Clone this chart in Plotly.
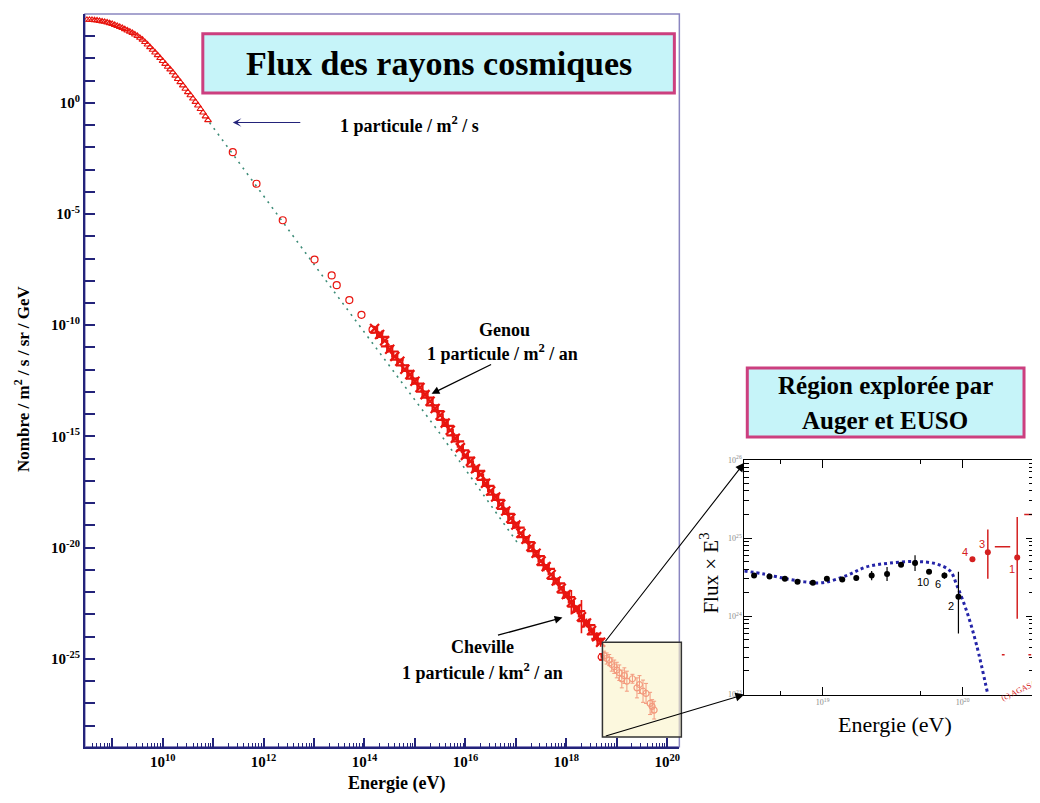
import numpy as np
import plotly.graph_objects as go

W, H = 1040, 803
OFF = 8  # page body margin of the browser
def px(x): return (x - OFF) / W
def py(y): return min(1.0, 1 - (y - OFF) / H)

# ---------------- main spectrum (log10 E [eV], log10 flux) ----------------
low_logE = [8.50, 8.55, 8.60, 8.65, 8.70, 8.75, 8.80, 8.85, 8.90, 8.95, 9.00, 9.05, 9.10, 9.15,
            9.20, 9.25, 9.30, 9.35, 9.40, 9.45, 9.50, 9.55, 9.60, 9.65, 9.70, 9.75, 9.80, 9.85,
            9.90, 9.95, 10.00, 10.05, 10.10, 10.15, 10.20, 10.25, 10.30, 10.35, 10.40, 10.45,
            10.50, 10.55, 10.60, 10.65, 10.70, 10.75, 10.80, 10.85, 10.90]
low_logF = [3.73, 3.73, 3.72, 3.71, 3.70, 3.68, 3.66, 3.64, 3.61, 3.58, 3.54, 3.50, 3.45, 3.41,
            3.36, 3.31, 3.25, 3.20, 3.14, 3.07, 3.00, 2.92, 2.84, 2.73, 2.62, 2.50, 2.38, 2.26,
            2.14, 2.01, 1.88, 1.75, 1.62, 1.50, 1.37, 1.22, 1.07, 0.93, 0.78, 0.63,
            0.48, 0.34, 0.19, 0.04, -0.12, -0.28, -0.44, -0.61, -0.78]

mid_logE = [11.39, 11.86, 12.38, 13.01, 13.35, 13.45, 13.70, 13.94, 14.16]
mid_logF = [-2.22, -3.64, -5.28, -7.05, -7.76, -8.20, -8.87, -9.53, -10.20]

knee_a_logE = [14.20, 14.30, 14.40, 14.50, 14.60, 14.70, 14.80, 14.90, 15.00, 15.10, 15.20, 15.30,
               15.40, 15.50, 15.60, 15.70, 15.80, 15.90, 16.00, 16.10, 16.20, 16.30, 16.40, 16.50,
               16.60, 16.70, 16.80, 16.90, 17.00, 17.10, 17.20, 17.30, 17.40, 17.50, 17.60, 17.70,
               17.80, 17.90, 18.00, 18.10, 18.20, 18.30, 18.40, 18.50, 18.60, 18.68]
knee_a_logF = [-10.15, -10.42, -10.70, -11.08, -11.40, -11.62, -11.98, -12.22, -12.52, -12.80, -13.12, -13.42,
               -13.74, -14.05, -14.40, -14.72, -15.08, -15.50, -15.85, -16.12, -16.45, -16.72, -17.10, -17.45,
               -17.72, -18.05, -18.35, -18.68, -18.98, -19.35, -19.62, -19.95, -20.25, -20.60, -20.85, -21.20,
               -21.50, -21.82, -22.10, -22.45, -22.75, -23.10, -23.38, -23.72, -24.00, -24.25]
knee_a_err = [0.05] * 36 + [0.08, 0.10, 0.12, 0.55, 0.15, 0.75, 0.20, 0.15, 0.20, 0.20]

knee_b_logE = [14.25, 14.35, 14.45, 14.55, 14.65, 14.75, 14.85, 14.95, 15.05, 15.15, 15.25, 15.35,
               15.45, 15.55, 15.65, 15.75, 15.85, 15.95, 16.05, 16.15, 16.25, 16.35, 16.45, 16.55,
               16.65, 16.75, 16.85, 16.95, 17.05, 17.15, 17.25, 17.35, 17.45, 17.55, 17.65, 17.75,
               17.85, 17.95, 18.05, 18.15, 18.25, 18.35, 18.45, 18.55, 18.62]
knee_b_logF = [-10.33, -10.52, -10.95, -11.18, -11.55, -11.80, -12.05, -12.40, -12.62, -12.98, -13.25, -13.60,
               -13.86, -14.25, -14.52, -14.95, -15.22, -15.62, -15.95, -16.35, -16.55, -16.95, -17.22, -17.62,
               -17.85, -18.25, -18.48, -18.88, -19.10, -19.52, -19.75, -20.15, -20.38, -20.78, -20.95, -21.40,
               -21.60, -22.02, -22.22, -22.65, -22.85, -23.30, -23.48, -23.90, -24.10]
knee_b_err = [0.06] * 34 + [0.10, 0.10, 0.12, 0.15, 0.20, 0.15, 0.25, 0.20, 0.25, 0.20, 0.25]

box_logE = [18.69, 18.75, 18.80, 18.85, 18.90, 18.95, 19.00, 19.05, 19.10, 19.15, 19.20, 19.31,
            19.40, 19.45, 19.52, 19.58, 19.66, 19.70, 19.74]
box_logF = [-24.91, -24.85, -24.98, -25.05, -25.25, -25.35, -25.50, -25.62, -25.90, -25.75, -26.00, -25.89,
            -26.30, -26.15, -26.45, -26.55, -27.00, -27.13, -27.30]
box_err = [0.15, 0.20, 0.25, 0.25, 0.30, 0.30, 0.35, 0.35, 0.40, 0.35, 0.45, 0.20,
           0.45, 0.40, 0.50, 0.45, 0.50, 0.30, 0.40]

ref_logE = [10.93, 13.45, 15.49, 17.07]
ref_logF = [-0.89, -8.65, -14.85, -19.90]

# ---------------- inset (AGASA, flux x E^3) ----------------
agasa_logE = [18.51, 18.62, 18.73, 18.82, 18.93, 19.03, 19.14, 19.24, 19.35, 19.46, 19.56, 19.66, 19.76, 19.87, 19.97]
agasa_logF = [24.52, 24.51, 24.48, 24.44, 24.43, 24.48, 24.47, 24.49, 24.52, 24.54, 24.66, 24.68, 24.57, 24.52, 24.25]
agasa_up = [0.02, 0.02, 0.02, 0.02, 0.02, 0.02, 0.03, 0.03, 0.06, 0.09, 0.03, 0.10, 0.03, 0.04, 0.32]
agasa_dn = [0.02, 0.02, 0.02, 0.02, 0.02, 0.02, 0.03, 0.03, 0.06, 0.09, 0.03, 0.10, 0.03, 0.04, 0.47]
agasa_labels = ["", "", "", "", "", "", "", "", "", "", "", "10", "6", "", "2"]

red_logE = [20.07, 20.18, 20.39]
red_logF = [24.73, 24.82, 24.75]
red_up = [0.0, 0.29, 0.52]
red_dn = [0.0, 0.34, 0.78]
red_labels = ["4", "3", "1"]

seg_logE = [20.23, 20.34, None, 20.44, 20.51, None, 20.28, 20.30, None, 20.47, 20.49]
seg_logF = [24.89, 24.89, None, 25.30, 25.30, None, 23.51, 23.51, None, 23.51, 23.51]

fit_logE = [18.44, 18.58, 18.74, 18.87, 19.00, 19.17, 19.31, 19.48, 19.67, 19.81, 19.91, 19.96, 20.03, 20.10, 20.18]
fit_logF = [24.58, 24.54, 24.48, 24.44, 24.43, 24.52, 24.63, 24.68, 24.70, 24.67, 24.58, 24.39, 24.06, 23.63, 23.00]


def p10(a):
    return [None if v is None else 10.0 ** v for v in a]


def logerr(logF, up, dn):
    f = np.array(logF)
    return dict(type="data", symmetric=False,
                array=list(10 ** (f + np.array(up)) - 10 ** f),
                arrayminus=list(10 ** f - 10 ** (f - np.array(dn))))


RED = "#e8150f"
NAVY = "#23237a"
SERIF = "Liberation Serif"

fig = go.Figure()

fig.add_trace(go.Scatter(x=p10(ref_logE), y=p10(ref_logF), mode="lines",
                         line=dict(color="#3d8c78", width=1.6, dash="2px,5px"),
                         xaxis="x", yaxis="y", hoverinfo="skip"))
fig.add_trace(go.Scatter(x=p10(low_logE), y=p10(low_logF), mode="markers",
                         marker=dict(symbol="triangle-up-open", size=6, color=RED, line=dict(width=1.1)),
                         xaxis="x", yaxis="y"))
fig.add_trace(go.Scatter(x=p10(mid_logE), y=p10(mid_logF), mode="markers",
                         marker=dict(symbol="circle-open", size=7, color=RED, line=dict(width=1.2)),
                         xaxis="x", yaxis="y"))
fig.add_trace(go.Scatter(x=p10(knee_a_logE), y=p10(knee_a_logF), mode="markers",
                         marker=dict(symbol="x-thin", size=9, color=RED, line=dict(width=2.2, color=RED)),
                         error_y=dict(**logerr(knee_a_logF, knee_a_err, knee_a_err), color=RED, thickness=1.6, width=0),
                         xaxis="x", yaxis="y"))
fig.add_trace(go.Scatter(x=p10(knee_b_logE), y=p10(knee_b_logF), mode="markers",
                         marker=dict(symbol="cross-thin", size=9, color=RED, line=dict(width=2.2, color=RED)),
                         error_y=dict(**logerr(knee_b_logF, knee_b_err, knee_b_err), color=RED, thickness=1.6, width=0),
                         xaxis="x", yaxis="y"))
fig.add_trace(go.Scatter(x=p10(box_logE), y=p10(box_logF), mode="markers",
                         marker=dict(symbol="circle-open", size=6, color=RED, line=dict(width=1.2)),
                         error_y=dict(**logerr(box_logF, box_err, box_err), color=RED, thickness=1, width=2),
                         xaxis="x", yaxis="y"))

# inset traces
fig.add_trace(go.Scatter(x=p10(fit_logE), y=p10(fit_logF), mode="lines", line_shape="spline",
                         line=dict(color="#2424a8", width=3, dash="dot"),
                         xaxis="x2", yaxis="y2"))
fig.add_trace(go.Scatter(x=p10(agasa_logE), y=p10(agasa_logF), mode="markers",
                         marker=dict(symbol="circle", size=6, color="black"),
                         error_y=dict(**logerr(agasa_logF, agasa_up, agasa_dn), color="black", thickness=1.2, width=0),
                         xaxis="x2", yaxis="y2"))
fig.add_trace(go.Scatter(x=p10(red_logE), y=p10(red_logF), mode="markers",
                         marker=dict(symbol="circle", size=6, color="#d42020"),
                         error_y=dict(**logerr(red_logF, red_up, red_dn), color="#d42020", thickness=1.5, width=0),
                         xaxis="x2", yaxis="y2"))
fig.add_trace(go.Scatter(x=p10(seg_logE), y=p10(seg_logF), mode="lines",
                         line=dict(color="#d42020", width=1.5),
                         xaxis="x2", yaxis="y2"))

# ---------------- axes ----------------
main_x_vals = [10.0 ** k for k in range(9, 21)]
main_x_text = ["<b>10<sup>%d</sup></b>" % k if (k % 2 == 0) else "" for k in range(9, 21)]
main_y_vals = [10.0 ** k for k in range(-28, 5)]
main_y_text = ["<b>10<sup>%d</sup></b>" % k if (k % 5 == 0) else "" for k in range(-28, 5)]
main_x_minor = [m * 10.0 ** k for k in range(8, 21) for m in range(2, 10)]

fig.update_layout(
    width=W, height=H, margin=dict(l=0, r=0, t=0, b=0),
    paper_bgcolor="white", plot_bgcolor="white", showlegend=False,
    font=dict(family=SERIF, color="black"),
    xaxis=dict(type="log", range=[8.46, 20.24], domain=[px(85), px(680)], anchor="y",
               tickmode="array", tickvals=main_x_vals, ticktext=main_x_text,
               ticks="inside", ticklen=9, tickwidth=1.5, tickcolor=NAVY,
               minor=dict(ticks="inside", ticklen=4, tickcolor=NAVY, tickwidth=1, tickvals=main_x_minor),
               showline=True, linecolor=NAVY, linewidth=2, showgrid=False, zeroline=False,
               tickfont=dict(family=SERIF, size=15, color="black")),
    yaxis=dict(type="log", range=[-28.95, 3.99], domain=[py(751), py(8)], anchor="x",
               tickmode="array", tickvals=main_y_vals, ticktext=main_y_text,
               ticks="inside", ticklen=10, tickwidth=1.5, tickcolor=NAVY,
               showline=True, linecolor=NAVY, linewidth=2, showgrid=False, zeroline=False,
               tickfont=dict(family=SERIF, size=15, color="black")),
    xaxis2=dict(type="log", range=[18.44, 20.51], domain=[px(745), px(1035)], anchor="y2",
                tickmode="array", tickvals=[1e19, 1e20], ticktext=["10<sup>19</sup>", "10<sup>20</sup>"],
                ticks="inside", ticklen=8, tickcolor="black", mirror="allticks",
                minor=dict(ticks="inside", ticklen=4, tickcolor="black", tickvals=[5e18, 5e19]),
                showline=True, linecolor="black", linewidth=1, showgrid=False, zeroline=False,
                tickfont=dict(family=SERIF, size=8, color="#8a8a8a")),
    yaxis2=dict(type="log", range=[23, 26], domain=[py(698), py(460)], anchor="x2",
                tickmode="array", tickvals=[1e23, 1e24, 1e25, 1e26],
                ticktext=["10<sup>23</sup>", "10<sup>24</sup>", "10<sup>25</sup>", "10<sup>26</sup>"],
                ticks="inside", ticklen=8, tickcolor="black", mirror="allticks",
                minor=dict(ticks="inside", ticklen=5, tickcolor="black",
                           tickvals=[m * 10.0 ** k for k in range(23, 26) for m in range(2, 10)]),
                showline=True, linecolor="black", linewidth=1, showgrid=False, zeroline=False,
                tickfont=dict(family=SERIF, size=8, color="#8a8a8a")),
)

shapes = [
    dict(type="rect", xref="paper", yref="paper", x0=px(85), x1=px(680), y0=py(751), y1=py(8),
         line=dict(color="#8a86c0", width=1.5), layer="below"),
    dict(type="rect", xref="paper", yref="paper", x0=px(603), x1=px(682), y0=py(741), y1=py(645),
         fillcolor="rgba(250,243,200,0.6)", line=dict(color="#333333", width=1.5), layer="above"),
    dict(type="rect", xref="paper", yref="paper", x0=px(203), x1=px(675), y0=py(88), y1=py(28),
         fillcolor="#c6f4f9", line=dict(color="#cc3f7f", width=3), layer="above"),
    dict(type="rect", xref="paper", yref="paper", x0=px(748), x1=px(1025), y0=py(437), y1=py(367),
         fillcolor="#c6f4f9", line=dict(color="#cc3f7f", width=3), layer="above"),
]
fig.update_layout(shapes=shapes)

ann = []
def text(x, y, t, size, bold=True, color="black", angle=0):
    ann.append(dict(x=px(x), y=py(y), xref="paper", yref="paper", showarrow=False,
                    text=("<b>%s</b>" % t) if bold else t, textangle=angle,
                    font=dict(family=SERIF, size=size, color=color),
                    xanchor="center", yanchor="middle"))

def arrow(x, y, tx, ty, color="black", head=2, width=1.3, size=1.2):
    ann.append(dict(x=px(x), y=py(y), xref="paper", yref="paper", showarrow=True, text="",
                    ax=tx - x, ay=ty - y, arrowhead=head, arrowsize=size, arrowwidth=width,
                    arrowcolor=color, standoff=0))

text(439, 58, "Flux des rayons cosmiques", 34)
text(886, 385, "Région explorée par", 25)
text(886, 420, "Auger et EUSO", 25)
text(410, 120, "1 particule / m<sup>2</sup> / s", 18)
text(505, 328, "Genou", 18)
text(503, 351, "1 particule / m<sup>2</sup> / an", 18)
text(483, 650, "Cheville", 18)
text(483, 675, "1 particule / km<sup>2</sup> / an", 18)
text(22, 378, "Nombre / m<sup>2</sup> / s / sr / GeV", 17, angle=-90)
text(397, 788, "Energie (eV)", 18)
text(710, 575, "Flux × E<sup>3</sup>", 21, bold=False, angle=-90)
text(896, 728, "Energie (eV)", 22, bold=False)
text(1020, 694, "(c) AGASA", 8, bold=False, color="#d42020", angle=-25)

arrow(233, 118, 302, 118, color=NAVY, head=3, width=1.2)
arrow(432, 393, 493, 363)
arrow(563, 620, 497, 638)
arrow(745, 463, 605, 643, head=2, size=1.6, width=1.1)
arrow(745, 698, 605, 740, head=2, size=1.6, width=1.1)

for lx, ly, lab in zip(agasa_logE, agasa_logF, agasa_labels):
    if lab:
        ann.append(dict(x=lx, y=ly, xref="x2", yref="y2", text=lab, showarrow=False,
                        font=dict(family="Liberation Sans", size=11, color="black"),
                        xshift={"10": 8, "6": 9, "2": -7}[lab], yshift={"10": -19, "6": -12, "2": -9}[lab]))
for lx, ly, lab in zip(red_logE, red_logF, red_labels):
    ann.append(dict(x=lx, y=ly, xref="x2", yref="y2", text=lab, showarrow=False,
                    font=dict(family="Liberation Sans", size=11, color="#d42020"),
                    xshift={"4": -7, "3": -6, "1": -5}[lab], yshift={"4": 7, "3": 8, "1": -11}[lab]))

fig.update_layout(annotations=ann)
fig.write_html("out.html")
